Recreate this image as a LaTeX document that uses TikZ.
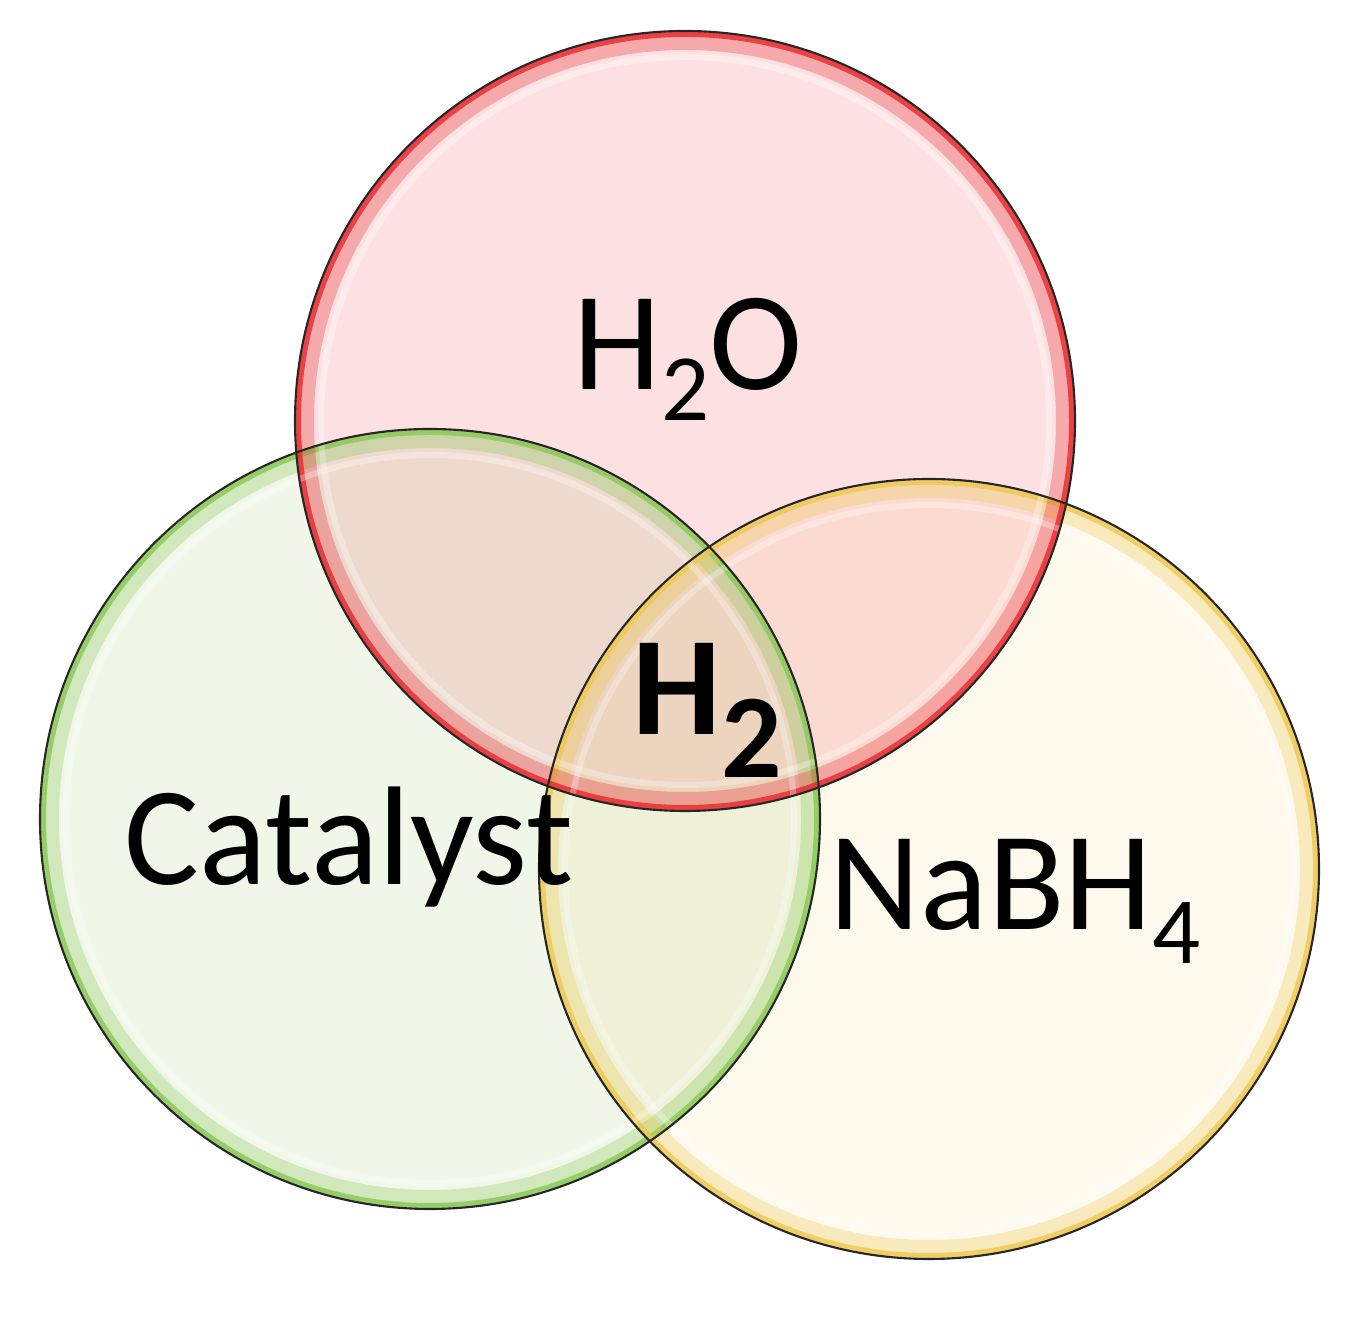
\documentclass[tikz,border=0pt]{standalone}
\usepackage{fontspec}
\setmainfont{Carlito}
\usetikzlibrary{positioning}

\definecolor{waterfill}{RGB}{253,225,226}
\definecolor{wateredge}{RGB}{232,40,44}
\definecolor{catfill}{RGB}{240,247,233}
\definecolor{catedge}{RGB}{135,200,85}
\definecolor{borofill}{RGB}{253,249,236}
\definecolor{boroedge}{RGB}{238,200,80}

\newcommand{\chemsub}[3]{\raisebox{#1}{\fontsize{#2}{#2}\selectfont #3}}

\begin{document}
\begin{tikzpicture}
    [
        set_node/.style={circle, minimum size=78mm, inner sep=0pt},
        glow/.style={line width=1.8mm, opacity=0.3},
        rim/.style={line width=0.6mm, opacity=0.8},
        shine/.style={white, line width=0.6mm, opacity=0.3},
        outline/.style={black!85, line width=0.6pt},
        big_text/.style={anchor=base, font=\fontsize{40}{48}\selectfont},
    ]
        \useasboundingbox (0,0) rectangle (13.48,13.2);
        \node[set_node] (water) at (6.85,8.99) {};
        \node[set_node] (catalyst) at (4.30,5.01) {};
        \node[set_node] (boro) at (9.29,4.51) {};
        % fills
        \begin{scope}[blend group=multiply]
            \fill[catfill] (catalyst.center) circle (3.9);
            \fill[borofill] (boro.center) circle (3.9);
            \fill[waterfill] (water.center) circle (3.9);
        \end{scope}
        % coloured rims
        \draw[glow, catedge] (catalyst.center) circle (3.8);
        \draw[rim, catedge] (catalyst.center) circle (3.87);
        \draw[glow, boroedge] (boro.center) circle (3.8);
        \draw[rim, boroedge] (boro.center) circle (3.87);
        \draw[glow, wateredge] (water.center) circle (3.8);
        \draw[rim, wateredge] (water.center) circle (3.87);
        \draw[shine] (catalyst.center) circle (3.64);
        \draw[shine] (boro.center) circle (3.64);
        \draw[shine] (water.center) circle (3.64);
        % outlines
        \draw[outline] (catalyst.center) circle (3.9);
        \draw[outline] (boro.center) circle (3.9);
        \draw[outline] (water.center) circle (3.9);
        % labels
        \node[big_text] (h2o) at (6.88,9.30) {H\chemsub{-0.22em}{27}{2}O};
        \node[big_text] (cat) at (3.49,4.35) {Catalyst};
        \node[big_text] (nabh) at (10.15,3.90) {NaBH\chemsub{-0.24em}{27}{4}};
        \node[big_text, font=\bfseries\fontsize{40}{48}\selectfont] (h2) at (7.07,5.85) {H\chemsub{-0.3em}{34}{2}};
\end{tikzpicture}
\end{document}
